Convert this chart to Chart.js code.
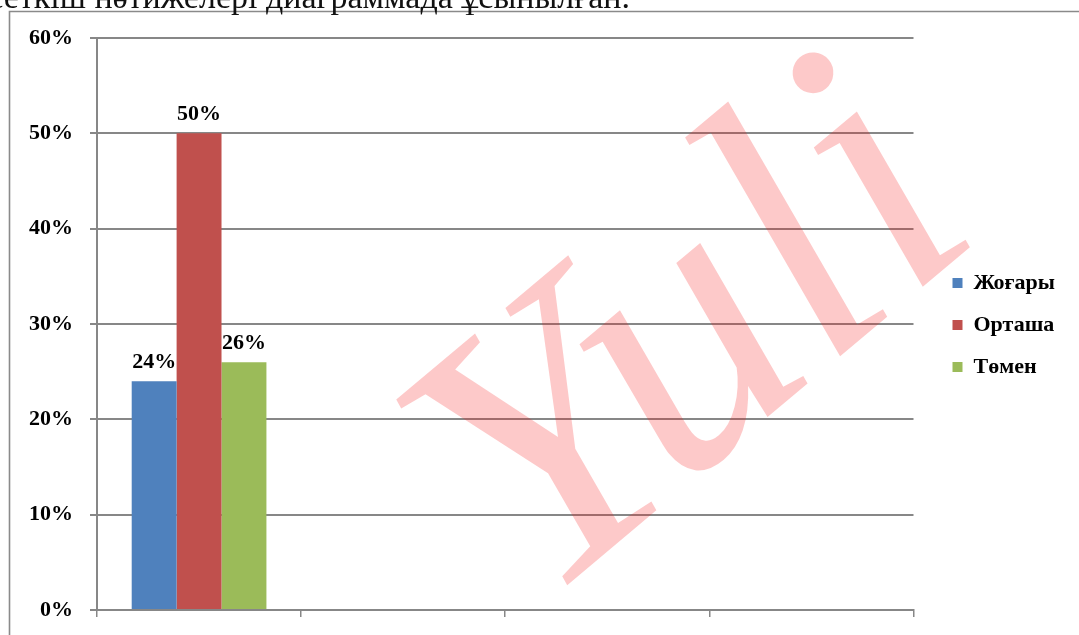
<!DOCTYPE html>
<html>
<head>
<meta charset="utf-8">
<script src="https://cdn.jsdelivr.net/npm/chart.js@4.4.1/dist/chart.umd.min.js"></script>
<style>
  html, body { margin: 0; padding: 0; background: #fff; }
  #wrap { position: relative; width: 1079px; height: 635px; overflow: hidden; }
  canvas { display: block; }
</style>
</head>
<body>
<div id="wrap"><canvas id="chart" width="1079" height="635"></canvas></div>
<script>
// Categories along the x axis (unnamed groups)
const categories = ['', '', '', ''];

// Series names and their values (percent)
const seriesNames = ['Жоғары', 'Орташа', 'Төмен'];
const highValues = [24, null, null, null];
const middleValues = [50, null, null, null];
const lowValues = [26, null, null, null];

// Y axis tick values (percent)
const yTicks = [0, 10, 20, 30, 40, 50, 60];

// Caption line above the chart frame and the diagonal watermark
const captionText = 'көрсеткіш нәтижелері диаграммада ұсынылған.';
const watermarkText = 'Yuli';

const seriesColors = ['#4F81BD', '#C0504D', '#9BBB59'];
const serif = '"Liberation Serif", "Times New Roman", serif';
const labelFont = { family: serif, size: 22, weight: 'bold' };
const axisGray = '#878787';

// Page background, outer frame and caption text
const pagePlugin = {
  id: 'page',
  beforeDraw(chart) {
    const ctx = chart.ctx;
    ctx.save();
    ctx.fillStyle = '#fff';
    ctx.fillRect(0, 0, chart.width, chart.height);
    ctx.strokeStyle = '#8a8a8a';
    ctx.lineWidth = 1.6;
    ctx.beginPath();
    ctx.moveTo(9.5, chart.height);
    ctx.lineTo(9.5, 11.5);
    ctx.lineTo(chart.width, 11.5);
    ctx.stroke();
    ctx.fillStyle = '#111';
    ctx.font = '34px ' + serif;
    ctx.textAlign = 'right';
    ctx.textBaseline = 'alphabetic';
    ctx.fillText(captionText, 630, 8);
    ctx.restore();
  }
};

// Translucent diagonal watermark laid over the plot
const watermarkPlugin = {
  id: 'watermark',
  afterDatasetsDraw(chart) {
    const ctx = chart.ctx;
    ctx.save();
    ctx.translate(540, 608);
    ctx.rotate(-40 * Math.PI / 180);
    ctx.font = 'italic 385px ' + serif;
    ctx.fillStyle = 'rgba(245, 20, 20, 0.23)';
    ctx.textBaseline = 'alphabetic';
    ctx.fillText(watermarkText, 0, 0);
    ctx.restore();
  }
};

// Value labels above each bar
const valueLabelPlugin = {
  id: 'valueLabels',
  afterDatasetsDraw(chart) {
    const ctx = chart.ctx;
    ctx.save();
    ctx.font = 'bold 22px ' + serif;
    ctx.fillStyle = '#000';
    ctx.textAlign = 'center';
    ctx.textBaseline = 'alphabetic';
    chart.data.datasets.forEach((ds, di) => {
      const meta = chart.getDatasetMeta(di);
      meta.data.forEach((bar, i) => {
        const v = ds.data[i];
        if (v === null || v === undefined) return;
        ctx.fillText(v + '%', bar.x, bar.y - 13);
      });
    });
    ctx.restore();
  }
};

const valueSets = [highValues, middleValues, lowValues];

new Chart(document.getElementById('chart'), {
  type: 'bar',
  data: {
    labels: categories,
    datasets: seriesNames.map((name, i) => ({
      label: name,
      data: valueSets[i],
      backgroundColor: seriesColors[i],
      borderWidth: 0,
      categoryPercentage: 0.66,
      barPercentage: 1.0
    }))
  },
  options: {
    responsive: false,
    animation: false,
    devicePixelRatio: 1,
    layout: { padding: { left: 27, top: 38, right: 14, bottom: 23 } },
    scales: {
      x: {
        grid: { drawOnChartArea: false, color: axisGray, lineWidth: 1.5, tickLength: 7, offset: true },
        border: { color: axisGray, width: 2 },
        ticks: { display: false },
        afterFit: s => { s.height = 2; }
      },
      y: {
        min: 0,
        max: 60,
        afterBuildTicks: s => { s.ticks = yTicks.map(v => ({ value: v })); },
        ticks: { callback: v => v + '%', font: labelFont, color: '#000', padding: 17 },
        grid: { color: axisGray, lineWidth: 2, tickLength: 7 },
        border: { color: axisGray, width: 2 },
        afterFit: s => {
          s.width = 70;
          // label overhang only needs half a line above and below the axis ends
          s.paddingTop = 13;
          s.paddingBottom = 13;
        }
      },
      gap: {
        type: 'linear',
        position: 'right',
        display: true,
        grid: { display: false },
        border: { display: false },
        ticks: { display: false },
        afterFit: s => { s.width = 19; }
      }
    },
    plugins: {
      legend: {
        position: 'right',
        align: 'center',
        labels: { boxWidth: 10, boxHeight: 10, padding: 20, color: '#000', font: labelFont }
      },
      tooltip: { enabled: false }
    }
  },
  plugins: [pagePlugin, watermarkPlugin, valueLabelPlugin]
});
</script>
</body>
</html>
